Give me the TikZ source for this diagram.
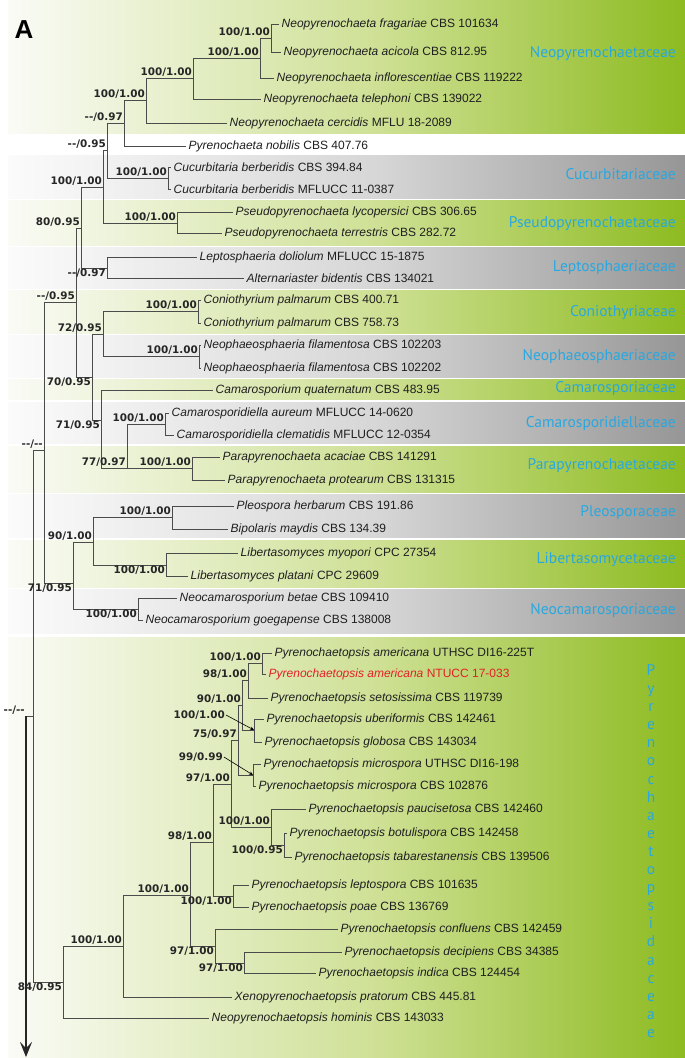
\documentclass[tikz,border=0pt]{standalone}
\usepackage{fontspec}
\setmainfont{Liberation Sans}
\newfontfamily\supfont{DejaVu Sans}
\newfontfamily\famfont{PT Sans}
\usetikzlibrary{arrows.meta}
\definecolor{famblue}{RGB}{41,168,224}
\definecolor{brgray}{RGB}{75,75,75}
\definecolor{newred}{RGB}{228,32,40}
\definecolor{gL}{RGB}{250,251,246}
\definecolor{gM}{RGB}{206,224,148}
\definecolor{gR}{RGB}{141,187,32}
\definecolor{kL}{RGB}{251,251,251}
\definecolor{kM}{RGB}{214,214,214}
\definecolor{kR}{RGB}{150,150,150}
\begin{document}
\begin{tikzpicture}[x=1pt, y=-1pt,
    br/.style={draw=brgray, line width=0.9pt},
    leaf/.style={anchor=west, inner xsep=2.5pt, inner ysep=0pt, text=black!88, font=\fontsize{12}{14}\selectfont},
    sup/.style={inner sep=1pt, text=black!85, font=\supfont\bfseries\fontsize{10.4}{12}\selectfont},
    fam/.style={anchor=east, inner sep=0pt, text=famblue, font=\famfont\fontsize{15.5}{17}\selectfont},
    ptr/.style={draw=black, line width=0.6pt, -{Stealth[length=4pt,width=3.5pt]}}]
    \useasboundingbox (0,0) rectangle (685,1058);
    \fill[white] (0,0) rectangle (685,1058);
    \foreach \ya/\yb in {0/133, 200/245, 290/333, 379/399, 446/492, 540/587, 637/1058} {
        \shade[left color=gL, right color=gM] (8,\ya) rectangle (380.5,\yb);
        \shade[left color=gM, right color=gR] (380,\ya) rectangle (685,\yb);
    }
    \foreach \ya/\yb in {155/198, 247/288, 335/377, 402/443, 494/537, 589/633} {
        \shade[left color=kL, right color=kM] (8,\ya) rectangle (380.5,\yb);
        \shade[left color=kM, right color=kR] (380,\ya) rectangle (685,\yb);
    }
    \node[font=\bfseries\fontsize{26}{28}\selectfont] (panel) at (24,30) {A};

    \node[fam] (famNp) at (676,54) {Neopyrenochaetaceae};
    \node[fam] (famCu) at (676,174) {Cucurbitariaceae};
    \node[fam] (famPs) at (676,224) {Pseudopyrenochaetaceae};
    \node[fam] (famLe) at (676,268) {Leptosphaeriaceae};
    \node[fam] (famCo) at (676,313) {Coniothyriaceae};
    \node[fam] (famNf) at (676,357) {Neophaeosphaeriaceae};
    \node[fam] (famCa) at (676,389) {Camarosporiaceae};
    \node[fam] (famCd) at (676,424) {Camarosporidiellaceae};
    \node[fam] (famPa) at (676,466) {Parapyrenochaetaceae};
    \node[fam] (famPl) at (676,513) {Pleosporaceae};
    \node[fam] (famLi) at (676,560) {Libertasomycetaceae};
    \node[fam] (famNe) at (676,611) {Neocamarosporiaceae};
    \node[fam, anchor=center, align=center, font=\famfont\fontsize{15.5}{18.1}\selectfont] (famPy) at (651,851)
        {P\\y\\r\\e\\n\\o\\c\\h\\a\\e\\t\\o\\p\\s\\i\\d\\a\\c\\e\\a\\e};

    \node[leaf] (fra) at (279,24) {\textit{Neopyrenochaeta fragariae} CBS 101634};
    \node[leaf] (aci) at (281,52) {\textit{Neopyrenochaeta acicola} CBS 812.95};
    \node[leaf] (inf) at (274,78) {\textit{Neopyrenochaeta inflorescentiae} CBS 119222};
    \node[leaf] (tel) at (261,99) {\textit{Neopyrenochaeta telephoni} CBS 139022};
    \node[leaf] (cer) at (227,123) {\textit{Neopyrenochaeta cercidis} MFLU 18-2089};
    \node[leaf] (nob) at (186,146) {\textit{Pyrenochaeta nobilis} CBS 407.76};
    \node[leaf] (cu1) at (171,167) {\textit{Cucurbitaria berberidis} CBS 394.84};
    \node[leaf] (cu2) at (171,189) {\textit{Cucurbitaria berberidis} MFLUCC 11-0387};
    \node[leaf] (lyc) at (233,212) {\textit{Pseudopyrenochaeta lycopersici} CBS 306.65};
    \node[leaf] (ter) at (222,233) {\textit{Pseudopyrenochaeta terrestris} CBS 282.72};
    \node[leaf] (dol) at (197,257) {\textit{Leptosphaeria doliolum} MFLUCC 15-1875};
    \node[leaf] (bid) at (244,278) {\textit{Alternariaster bidentis} CBS 134021};
    \node[leaf] (co1) at (201,300) {\textit{Coniothyrium palmarum} CBS 400.71};
    \node[leaf] (co2) at (201,323) {\textit{Coniothyrium palmarum} CBS 758.73};
    \node[leaf] (nf1) at (201,345) {\textit{Neophaeosphaeria filamentosa} CBS 102203};
    \node[leaf] (nf2) at (201,368) {\textit{Neophaeosphaeria filamentosa} CBS 102202};
    \node[leaf] (cam) at (213,390) {\textit{Camarosporium quaternatum} CBS 483.95};
    \node[leaf] (aur) at (169,413) {\textit{Camarosporidiella aureum} MFLUCC 14-0620};
    \node[leaf] (cle) at (174,435) {\textit{Camarosporidiella clematidis} MFLUCC 12-0354};
    \node[leaf] (aca) at (220,457) {\textit{Parapyrenochaeta acaciae} CBS 141291};
    \node[leaf] (pro) at (225,480) {\textit{Parapyrenochaeta protearum} CBS 131315};
    \node[leaf] (ple) at (234,506) {\textit{Pleospora herbarum} CBS 191.86};
    \node[leaf] (bip) at (228,529) {\textit{Bipolaris maydis} CBS 134.39};
    \node[leaf] (myo) at (238,553) {\textit{Libertasomyces myopori} CPC 27354};
    \node[leaf] (pla) at (188,576) {\textit{Libertasomyces platani} CPC 29609};
    \node[leaf] (bet) at (177,598) {\textit{Neocamarosporium betae} CBS 109410};
    \node[leaf] (goe) at (143,620) {\textit{Neocamarosporium goegapense} CBS 138008};
    \node[leaf] (am1) at (272,653) {\textit{Pyrenochaetopsis americana} UTHSC DI16-225T};
    \node[leaf, text=newred] (am2) at (266,674) {\textit{Pyrenochaetopsis americana} NTUCC 17-033};
    \node[leaf] (set) at (268,698) {\textit{Pyrenochaetopsis setosissima} CBS 119739};
    \node[leaf] (ube) at (264,719) {\textit{Pyrenochaetopsis uberiformis} CBS 142461};
    \node[leaf] (glo) at (262,742) {\textit{Pyrenochaetopsis globosa} CBS 143034};
    \node[leaf] (mi1) at (261,764) {\textit{Pyrenochaetopsis microspora} UTHSC DI16-198};
    \node[leaf] (mi2) at (256,786) {\textit{Pyrenochaetopsis microspora} CBS 102876};
    \node[leaf] (pau) at (306,809) {\textit{Pyrenochaetopsis paucisetosa} CBS 142460};
    \node[leaf] (bot) at (287,833) {\textit{Pyrenochaetopsis botulispora} CBS 142458};
    \node[leaf] (tab) at (292,857) {\textit{Pyrenochaetopsis tabarestanensis} CBS 139506};
    \node[leaf] (lep) at (249,885) {\textit{Pyrenochaetopsis leptospora} CBS 101635};
    \node[leaf] (poa) at (249,907) {\textit{Pyrenochaetopsis poae} CBS 136769};
    \node[leaf] (con) at (338,929) {\textit{Pyrenochaetopsis confluens} CBS 142459};
    \node[leaf] (dec) at (342,952) {\textit{Pyrenochaetopsis decipiens} CBS 34385};
    \node[leaf] (ind) at (316,973) {\textit{Pyrenochaetopsis indica} CBS 124454};
    \node[leaf] (xen) at (232,997) {\textit{Xenopyrenochaetopsis pratorum} CBS 445.81};
    \node[leaf] (hom) at (209,1018) {\textit{Neopyrenochaetopsis hominis} CBS 143033};

    \coordinate (nA) at (271,38);
    \coordinate (nB) at (260,58);
    \coordinate (nC) at (193,78);
    \coordinate (nD) at (146,100);
    \coordinate (nE) at (124,123);
    \coordinate (nF) at (107,150);
    \coordinate (nCu) at (168,178);
    \coordinate (nPs) at (177,223);
    \coordinate (nG) at (103,187);
    \coordinate (nI) at (107,268);
    \coordinate (nH) at (81,228);
    \coordinate (nCo) at (198,311);
    \coordinate (nNf) at (199,356);
    \coordinate (nM) at (103,334);
    \coordinate (nCd) at (165,424);
    \coordinate (nPa) at (192,468);
    \coordinate (nO) at (127,468);
    \coordinate (nN) at (101,420);
    \coordinate (nK) at (92,377);
    \coordinate (nJ) at (76,302);
    \coordinate (nPe) at (172,517);
    \coordinate (nLi) at (166,565);
    \coordinate (nPl) at (93,542);
    \coordinate (nNe) at (138,609);
    \coordinate (nQ) at (73,583);
    \coordinate (nL) at (44,450);
    \coordinate (na1) at (262,663);
    \coordinate (na2) at (248,680);
    \coordinate (na4) at (254,730);
    \coordinate (na3) at (242,705);
    \coordinate (na6) at (253,775);
    \coordinate (na5) at (238,740);
    \coordinate (nAB) at (284,845);
    \coordinate (nAA) at (271,827);
    \coordinate (nY) at (231,784);
    \coordinate (nZ) at (233,896);
    \coordinate (nV) at (213,842);
    \coordinate (nX) at (244,963);
    \coordinate (nW) at (215,946);
    \coordinate (nU) at (190,895);
    \coordinate (nT) at (123,946);
    \coordinate (nS) at (63,982);
    \coordinate (nP) at (33,716);
    \coordinate (nR) at (26,716);
    \coordinate (rootend) at (26,1057);

    \draw[br] (nA) |- (fra.west) (nA) |- (aci.west);
    \draw[br] (nB) |- (nA) (nB) |- (inf.west);
    \draw[br] (nC) |- (nB) (nC) |- (tel.west);
    \draw[br] (nD) |- (nC) (nD) |- (cer.west);
    \draw[br] (nE) |- (nD) (nE) |- (nob.west);
    \draw[br] (nF) |- (nE) (nF) |- (nCu);
    \draw[br] (nCu) |- (cu1.west) (nCu) |- (cu2.west);
    \draw[br] (nPs) |- (lyc.west) (nPs) |- (ter.west);
    \draw[br] (nG) |- (nF) (nG) |- (nPs);
    \draw[br] (nI) |- (dol.west) (nI) |- (bid.west);
    \draw[br] (nH) |- (nG) (nH) |- (nI);
    \draw[br] (nCo) |- (co1.west) (nCo) |- (co2.west);
    \draw[br] (nNf) |- (nf1.west) (nNf) |- (nf2.west);
    \draw[br] (nM) |- (nCo) (nM) |- (nNf);
    \draw[br] (nCd) |- (aur.west) (nCd) |- (cle.west);
    \draw[br] (nPa) |- (aca.west) (nPa) |- (pro.west);
    \draw[br] (nO) |- (nCd) (nO) |- (nPa);
    \draw[br] (nN) |- (cam.west) (nN) |- (nO);
    \draw[br] (nK) |- (nM) (nK) |- (nN);
    \draw[br] (nJ) |- (nH) (nJ) |- (nK);
    \draw[br] (nPe) |- (ple.west) (nPe) |- (bip.west);
    \draw[br] (nLi) |- (myo.west) (nLi) |- (pla.west);
    \draw[br] (nPl) |- (nPe) (nPl) |- (nLi);
    \draw[br] (nNe) |- (bet.west) (nNe) |- (goe.west);
    \draw[br] (nQ) |- (nPl) (nQ) |- (nNe);
    \draw[br] (nL) |- (nJ) (nL) |- (nQ);
    \draw[br] (na1) |- (am1.west) (na1) |- (am2.west);
    \draw[br] (na2) |- (na1) (na2) |- (set.west);
    \draw[br] (na4) |- (ube.west) (na4) |- (glo.west);
    \draw[br] (na3) |- (na2) (na3) |- (na4);
    \draw[br] (na6) |- (mi1.west) (na6) |- (mi2.west);
    \draw[br] (na5) |- (na3) (na5) |- (na6);
    \draw[br] (nAB) |- (bot.west) (nAB) |- (tab.west);
    \draw[br] (nAA) |- (pau.west) (nAA) |- (nAB);
    \draw[br] (nY) |- (na5) (nY) |- (nAA);
    \draw[br] (nZ) |- (lep.west) (nZ) |- (poa.west);
    \draw[br] (nV) |- (nY) (nV) |- (nZ);
    \draw[br] (nX) |- (dec.west) (nX) |- (ind.west);
    \draw[br] (nW) |- (con.west) (nW) |- (nX);
    \draw[br] (nU) |- (nV) (nU) |- (nW);
    \draw[br] (nT) |- (nU) (nT) |- (xen.west);
    \draw[br] (nS) |- (nT) (nS) |- (hom.west);
    \draw[br] (nP) |- (nL) (nP) |- (nS);
    \draw[br] (nR) -- (nP);
    \draw[br, line width=1.1pt, -{Stealth[length=15pt,width=12pt,inset=6pt]}, draw=black!85] (nR) -- (rootend);

    \node[sup, anchor=south east] (sA) at (nA) {100/1.00};
    \node[sup, anchor=south east] (sB) at (nB) {100/1.00};
    \node[sup, anchor=south east] (sC) at (nC) {100/1.00};
    \node[sup, anchor=south east] (sD) at (nD) {100/1.00};
    \node[sup, anchor=south east] (sE) at (nE) {-{}-/0.97};
    \node[sup, anchor=south east] (sF) at (nF) {-{}-/0.95};
    \node[sup, anchor=south east] (sCu) at (nCu) {100/1.00};
    \node[sup, anchor=south east] (sPs) at (nPs) {100/1.00};
    \node[sup, anchor=south east] (sG) at (nG) {100/1.00};
    \node[sup, anchor=north east] (sI) at (nI) {-{}-/0.97};
    \node[sup, anchor=south east] (sH) at (nH) {80/0.95};
    \node[sup, anchor=south east] (sCo) at (nCo) {100/1.00};
    \node[sup, anchor=south east] (sNf) at (nNf) {100/1.00};
    \node[sup, anchor=south east] (sM) at (nM) {72/0.95};
    \node[sup, anchor=south east] (sCd) at (nCd) {100/1.00};
    \node[sup, anchor=south east] (sPa) at (nPa) {100/1.00};
    \node[sup, anchor=south east] (sO) at (nO) {77/0.97};
    \node[sup, anchor=north east] (sN) at (nN) {71/0.95};
    \node[sup, anchor=north east] (sK) at (nK) {70/0.95};
    \node[sup, anchor=south east] (sJ) at (nJ) {-{}-/0.95};
    \node[sup, anchor=south east] (sPe) at (nPe) {100/1.00};
    \node[sup, anchor=north east] (sLi) at (nLi) {100/1.00};
    \node[sup, anchor=south east] (sPl) at (nPl) {90/1.00};
    \node[sup, anchor=north east] (sNe) at (nNe) {100/1.00};
    \node[sup, anchor=north east] (sQ) at (nQ) {71/0.95};
    \node[sup, anchor=south east] (sL) at (nL) {-{}-/-{}-};
    \node[sup, anchor=south east] (sa1) at (na1) {100/1.00};
    \node[sup, anchor=south east] (sa2) at (na2) {98/1.00};
    \node[sup, anchor=south east] (sa3) at (na3) {90/1.00};
    \node[sup, anchor=east] (sa4) at (226,715) {100/1.00};
    \node[sup, anchor=south east] (sa5) at (na5) {75/0.97};
    \node[sup, anchor=east] (sa6) at (224,757) {99/0.99};
    \node[sup, anchor=north east] (sAB) at (nAB) {100/0.95};
    \node[sup, anchor=south east] (sAA) at (nAA) {100/1.00};
    \node[sup, anchor=south east] (sY) at (nY) {97/1.00};
    \node[sup, anchor=north east] (sZ) at (nZ) {100/1.00};
    \node[sup, anchor=south east] (sV) at (nV) {98/1.00};
    \node[sup, anchor=north east] (sX) at (nX) {97/1.00};
    \node[sup, anchor=north east] (sW) at (nW) {97/1.00};
    \node[sup, anchor=south east] (sU) at (nU) {100/1.00};
    \node[sup, anchor=south east] (sT) at (nT) {100/1.00};
    \node[sup, anchor=north east] (sS) at (nS) {84/0.95};
    \node[sup, anchor=south east] (sR) at (nR) {-{}-/-{}-};
    \draw[ptr] (sa4.east) -- (na4);
    \draw[ptr] (sa6.east) -- (na6);
\end{tikzpicture}
\end{document}
